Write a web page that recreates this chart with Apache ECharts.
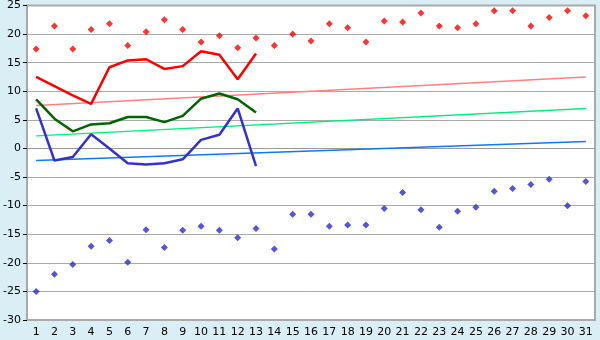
<!DOCTYPE html>
<html>
<head>
<meta charset="utf-8">
<script src="https://cdn.jsdelivr.net/npm/echarts@6/dist/echarts.min.js"></script>
<style>
html,body{margin:0;padding:0;background:#d9eef5;}
#c{width:600px;height:340px;}
</style>
</head>
<body>
<div id="c"></div>
<script>
var days = ['1','2','3','4','5','6','7','8','9','10','11','12','13','14','15','16','17','18','19','20','21','22','23','24','25','26','27','28','29','30','31'];
var maxPoints = [17.4,21.4,17.4,20.8,21.8,18.0,20.4,22.5,20.8,18.6,19.7,17.6,19.3,18.0,20.0,18.8,21.8,21.1,18.6,22.3,22.1,23.7,21.4,21.1,21.8,24.1,24.1,21.4,22.9,24.1,23.2];
var minPoints = [-25.0,-22.0,-20.3,-17.1,-16.1,-19.9,-14.2,-17.3,-14.3,-13.6,-14.3,-15.6,-14.0,-17.6,-11.5,-11.5,-13.6,-13.4,-13.4,-10.5,-7.7,-10.7,-13.8,-11.0,-10.3,-7.5,-7.0,-6.3,-5.4,-10.0,-5.8];
var maxLine = [12.5,10.9,9.3,7.8,14.2,15.4,15.6,13.9,14.4,17.0,16.4,12.1,16.6];
var avgLine = [8.6,5.2,3.0,4.2,4.4,5.5,5.5,4.6,5.7,8.7,9.6,8.6,6.3];
var minLine = [7.0,-2.1,-1.5,2.5,0.0,-2.6,-2.8,-2.6,-1.9,1.5,2.4,7.0,-3.1];
var maxTrend = [7.5,12.5];
var avgTrend = [2.2,7.0];
var minTrend = [-2.1,1.2];
var yTicks = {min:-30, max:25, interval:5};

var chart = echarts.init(document.getElementById('c'), null, {renderer:'canvas'});
function trend(v){ return [[days[0], v[0]], [days[days.length-1], v[1]]]; }
var font = 'DejaVu Sans';
chart.setOption({
  animation:false,
  backgroundColor:'#d9eef5',
  grid:{left:26,right:5,top:5,bottom:20,show:true,backgroundColor:'#ffffff',borderColor:'#aaaaaa',borderWidth:2},
  xAxis:{type:'category',data:days,boundaryGap:true,
    axisLine:{lineStyle:{color:'#999999',width:1}},
    axisTick:{alignWithLabel:true,length:5,lineStyle:{color:'#000'}},
    axisLabel:{color:'#000',fontFamily:font,fontSize:11,margin:7,interval:0},
    splitLine:{show:false}},
  yAxis:{type:'value',min:yTicks.min,max:yTicks.max,interval:yTicks.interval,
    axisLine:{show:true,lineStyle:{color:'#aaaaaa',width:2}},
    axisTick:{show:true,length:4,lineStyle:{color:'#000'}},
    axisLabel:{color:'#000',fontFamily:font,fontSize:11,margin:6},
    splitLine:{lineStyle:{color:'#aaaaaa',width:1}}},
  series:[
    {type:'line',data:trend(maxTrend),symbol:'none',lineStyle:{color:'#ff8080',width:1.5},z:2},
    {type:'line',data:trend(avgTrend),symbol:'none',lineStyle:{color:'#00f07a',width:1.5},z:2},
    {type:'line',data:trend(minTrend),symbol:'none',lineStyle:{color:'#0a7cf0',width:1.5},z:2},
    {type:'line',data:maxLine,symbol:'none',lineStyle:{color:'#ff0000',width:2.5},z:3},
    {type:'line',data:avgLine,symbol:'none',lineStyle:{color:'#006400',width:2.5},z:3},
    {type:'line',data:minLine,symbol:'none',lineStyle:{color:'#3333cc',width:2.5},z:3},
    {type:'scatter',data:maxPoints,symbol:'diamond',symbolSize:7,itemStyle:{color:'#ff0000'},z:4},
    {type:'scatter',data:minPoints,symbol:'diamond',symbolSize:7,itemStyle:{color:'#2a2acc'},z:4}
  ]
});
</script>
</body>
</html>
